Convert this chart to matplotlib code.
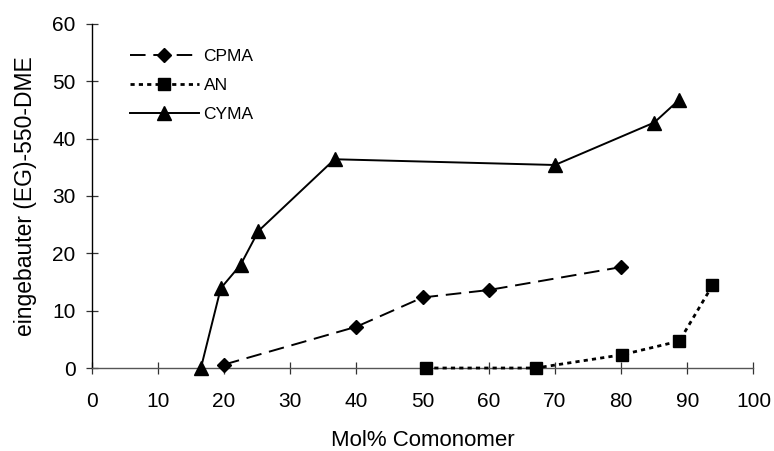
import matplotlib
matplotlib.use("Agg")
import matplotlib.pyplot as plt

plt.rcParams['font.family'] = ['Liberation Sans', 'DejaVu Sans']

cpma_x = [20, 40, 50, 60, 80]
cpma_y = [0.6, 7.2, 12.3, 13.6, 17.6]

an_x = [50.5, 67.1, 80.1, 88.8, 93.8]
an_y = [0.0, 0.0, 2.3, 4.7, 14.4]

cyma_x = [16.5, 19.5, 22.5, 25.2, 36.7, 70.0, 85.0, 88.8]
cyma_y = [0.0, 13.9, 18.0, 23.9, 36.4, 35.4, 42.8, 46.8]

xticks = [0, 10, 20, 30, 40, 50, 60, 70, 80, 90, 100]
yticks = [0, 10, 20, 30, 40, 50, 60]

fig = plt.figure(figsize=(7.74, 4.51), dpi=100)
ax = fig.add_axes([0.1185, 0.184, 0.855, 0.763])

ax.plot(cpma_x, cpma_y, color='black', lw=1.4, linestyle=(0, (8, 4)),
        marker='D', ms=7, label='CPMA', zorder=3, clip_on=False)
ax.plot(an_x, an_y, color='black', lw=2.0, linestyle=(0, (1.5, 1.5)),
        marker='s', ms=9, label='AN', zorder=3, clip_on=False)
ax.plot(cyma_x, cyma_y, color='black', lw=1.4, linestyle='-',
        marker='^', ms=10.5, label='CYMA', zorder=3, clip_on=False)

ax.set_xlim(0, 100)
ax.set_ylim(0, 60)
ax.set_xticks(xticks)
ax.set_yticks(yticks)

for s in ['top', 'right']:
    ax.spines[s].set_visible(False)
ax.spines['left'].set_color('black')
ax.spines['bottom'].set_color('#555555')
ax.spines['left'].set_linewidth(1.0)
ax.spines['bottom'].set_linewidth(1.0)

ax.tick_params(axis='x', direction='inout', length=8.5, width=0.9, color='#333333',
               labelsize=15, pad=13)
ax.tick_params(axis='y', direction='inout', length=9, width=0.9, color='#333333',
               labelsize=15, pad=7)

ax.set_xlabel('Mol% Comonomer', fontsize=16, labelpad=13.5)
ax.set_ylabel('eingebauter (EG)-550-DME', fontsize=16.5, labelpad=11)

ax.legend(loc='upper left', bbox_to_anchor=(0.047, 0.948), frameon=False,
          fontsize=12.5, handlelength=4.0, handletextpad=0.25, labelspacing=0.8,
          borderaxespad=0)

fig.savefig('out.png', dpi=100)
